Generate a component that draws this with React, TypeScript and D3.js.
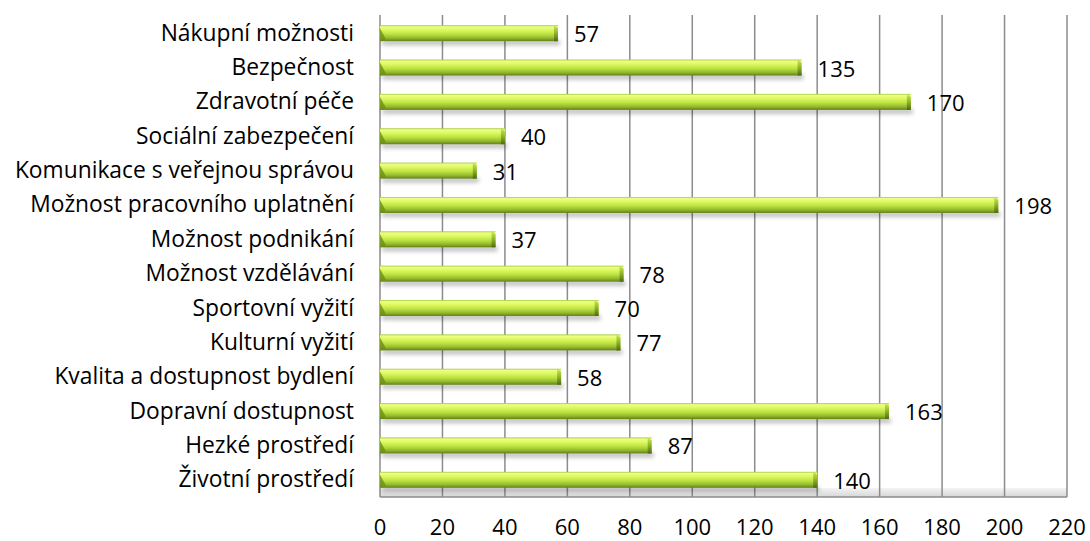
import React from "react";
import * as d3 from "d3";

const categories = [
  "Nákupní možnosti",
  "Bezpečnost",
  "Zdravotní péče",
  "Sociální zabezpečení",
  "Komunikace s veřejnou správou",
  "Možnost pracovního uplatnění",
  "Možnost podnikání",
  "Možnost vzdělávání",
  "Sportovní vyžití",
  "Kulturní vyžití",
  "Kvalita a dostupnost bydlení",
  "Dopravní dostupnost",
  "Hezké prostředí",
  "Životní prostředí",
];
const values = [57, 135, 170, 40, 31, 198, 37, 78, 70, 77, 58, 163, 87, 140];
const xTicks = [0, 20, 40, 60, 80, 100, 120, 140, 160, 180, 200, 220];

const W = 1090;
const H = 541;
const FONT = "'Open Sans', sans-serif";

export default function App() {
  const x = d3.scaleLinear().domain([0, 220]).range([380, 1067]);
  const y = d3.scaleBand<string>().domain(categories).range([16, 497]).padding(0);
  const barH = 16;
  const floorTop = 488;
  const floorBottom = 497;

  return (
    <svg width={W} height={H} style={{ position: "absolute", left: 0, top: 0, background: "#fff" }}>
      <defs>
        <linearGradient id="barGrad" x1="0" y1="0" x2="0" y2="1">
          <stop offset="0%" stopColor="#a2c93a" />
          <stop offset="10%" stopColor="#eeff84" />
          <stop offset="30%" stopColor="#dbf860" />
          <stop offset="55%" stopColor="#bee342" />
          <stop offset="80%" stopColor="#94ba2e" />
          <stop offset="100%" stopColor="#628016" />
        </linearGradient>
        <linearGradient id="capGrad" x1="0" y1="0" x2="0" y2="1">
          <stop offset="0%" stopColor="#c8ec50" />
          <stop offset="50%" stopColor="#8fb42c" />
          <stop offset="100%" stopColor="#4f6a10" />
        </linearGradient>
        <linearGradient id="floorGrad" x1="0" y1="0" x2="0" y2="1">
          <stop offset="0%" stopColor="#f4f4f4" />
          <stop offset="100%" stopColor="#d6d6d6" />
        </linearGradient>
        <filter id="shadow" x="-5%" y="-50%" width="110%" height="250%">
          <feGaussianBlur stdDeviation="2" />
        </filter>
      </defs>

      {/* floor */}
      <rect x={x(0)} y={floorTop} width={x(220) - x(0)} height={floorBottom - floorTop} fill="url(#floorGrad)" />
      <line x1={x(0)} x2={x(220)} y1={floorBottom} y2={floorBottom} stroke="#8c8c8c" strokeWidth={1.5} />

      {/* gridlines */}
      {xTicks.map((t) => (
        <line key={t} x1={x(t)} x2={x(t)} y1={15} y2={floorBottom} stroke="#8c8c8c" strokeWidth={1.5} />
      ))}

      {/* bars */}
      {categories.map((c, i) => {
        const cy = (y(c) as number) + y.bandwidth() / 2;
        const top = cy - barH / 2;
        const x0 = x(0);
        const x1 = x(values[i]);
        return (
          <g key={c}>
            <rect x={x0 + 2} y={top + barH - 1} width={x1 - x0} height={5} fill="#000" opacity={0.25} filter="url(#shadow)" />
            <rect x={x0} y={top} width={x1 - x0} height={barH} fill="url(#barGrad)" />
            <polygon
              points={`${x1 - 4},${top} ${x1},${top + 3} ${x1},${top + barH} ${x1 - 4},${top + barH}`}
              fill="url(#capGrad)"
            />
            <polygon
              points={`${x0},${top + 3} ${x0 + 6},${top + barH - 2} ${x0},${top + barH}`}
              fill="#6d8e18"
              opacity={0.8}
            />
            <text x={x1 + 16} y={cy + 9} fontFamily={FONT} fontSize={22} fill="#000">
              {values[i]}
            </text>
            <text x={354} y={cy + 7.5} textAnchor="end" fontFamily={FONT} fontSize={22.8} fill="#000">
              {c}
            </text>
          </g>
        );
      })}

      {/* x tick labels */}
      {xTicks.map((t) => (
        <text key={t} x={x(t)} y={535} textAnchor="middle" fontFamily={FONT} fontSize={22} fill="#000">
          {t}
        </text>
      ))}
    </svg>
  );
}
